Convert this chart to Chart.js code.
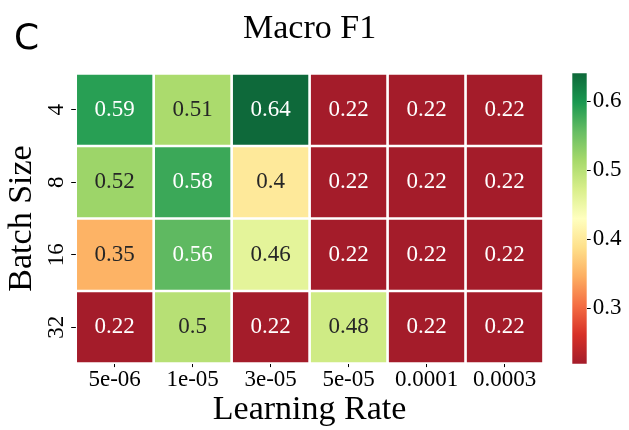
<!DOCTYPE html>
<html>
<head>
<meta charset="utf-8">
<script src="https://cdn.jsdelivr.net/npm/chart.js@4.4.0/dist/chart.umd.min.js"></script>
<style>
html,body{margin:0;padding:0;background:#fff;}
#wrap{position:relative;width:629px;height:430px;overflow:hidden;}
canvas{position:absolute;top:0;}
</style>
</head>
<body>
<div id="wrap">
<canvas id="main" width="629" height="430" style="left:0;width:629px;height:430px"></canvas>
<canvas id="cbar" width="69" height="430" style="left:560px;width:69px;height:430px"></canvas>
</div>
<script>
// ---- data ----
const learningRates = ['5e-06', '1e-05', '3e-05', '5e-05', '0.0001', '0.0003'];
const batchSizes = ['4', '8', '16', '32'];
const f1Batch4  = [0.59, 0.51, 0.64, 0.22, 0.22, 0.22];
const f1Batch8  = [0.52, 0.58, 0.40, 0.22, 0.22, 0.22];
const f1Batch16 = [0.35, 0.56, 0.46, 0.22, 0.22, 0.22];
const f1Batch32 = [0.22, 0.50, 0.22, 0.48, 0.22, 0.22];
const colorbarTicks = [0.3, 0.4, 0.5, 0.6];

const rows = [f1Batch4, f1Batch8, f1Batch16, f1Batch32];
const allVals = rows.flat();
const vmin = Math.min(...allVals);
const vmax = Math.max(...allVals);

// RdYlGn-like colormap control colours (ends tuned to the reference rendering)
const RdYlGn = [
  [164,28,42],[215,48,39],[244,109,67],[253,174,97],[254,224,139],
  [255,255,191],[217,239,139],[166,217,106],[102,189,99],[26,152,80],[14,105,58]
];
function cmapRGB(t) {
  t = Math.max(0, Math.min(1, t));
  const p = t * (RdYlGn.length - 1);
  const i = Math.min(Math.floor(p), RdYlGn.length - 2);
  const f = p - i;
  const a = RdYlGn[i], b = RdYlGn[i + 1];
  return [0,1,2].map(k => a[k] + (b[k] - a[k]) * f);
}
function rgbStr(c) { return 'rgb(' + c.map(Math.round).join(',') + ')'; }
function norm(v) { return (v - vmin) / (vmax - vmin); }
function luminance(c) {
  const lin = c.map(x => { x /= 255; return x <= 0.03928 ? x / 12.92 : Math.pow((x + 0.055) / 1.055, 2.4); });
  return 0.2126 * lin[0] + 0.7152 * lin[1] + 0.0722 * lin[2];
}

const SERIF = "'Liberation Serif', 'Times New Roman', serif";

const annotatePlugin = {
  id: 'annotate',
  afterDatasetsDraw(chart) {
    const ctx = chart.ctx;
    ctx.save();
    ctx.font = '23px ' + SERIF;
    ctx.textAlign = 'center';
    ctx.textBaseline = 'alphabetic';
    rows.forEach((row, i) => {
      const meta = chart.getDatasetMeta(i);
      meta.data.forEach((el, j) => {
        const p = el.getProps(['x', 'y', 'base'], true);
        const cy = (p.y + p.base) / 2;
        const col = cmapRGB(norm(row[j]));
        ctx.fillStyle = luminance(col) > 0.408 ? '#262626' : '#ffffff';
        ctx.fillText(String(row[j]), p.x, cy + 6);
      });
    });
    ctx.restore();
  },
  afterDraw(chart) {
    const ctx = chart.ctx;
    const ys = chart.scales.y;
    ctx.save();
    ctx.font = '23px ' + SERIF;
    ctx.fillStyle = '#000';
    ctx.textAlign = 'center';
    ctx.textBaseline = 'alphabetic';
    ys.ticks.forEach((t, i) => {
      const py = ys.getPixelForValue(t.value);
      ctx.save();
      ctx.translate(ys.right - 12.4, py);
      ctx.rotate(-Math.PI / 2);
      ctx.fillText(batchSizes[i], 0, 0);
      ctx.restore();
    });
    // panel letter
    ctx.font = "36px 'DejaVu Sans', sans-serif";
    ctx.textAlign = 'left';
    ctx.fillText('C', 14, 49);
    ctx.restore();
  }
};

new Chart(document.getElementById('main'), {
  type: 'bar',
  data: {
    labels: learningRates,
    datasets: rows.map((row, i) => ({
      label: batchSizes[i],
      data: row.map(() => [i, i + 1]),
      backgroundColor: row.map(v => rgbStr(cmapRGB(norm(v)))),
      borderColor: '#ffffff',
      borderWidth: 1.65,
      borderSkipped: false,
      grouped: false,
      barPercentage: 1,
      categoryPercentage: 1
    }))
  },
  options: {
    responsive: false,
    devicePixelRatio: 1,
    animation: false,
    layout: { padding: { top: 0, right: 85.5, bottom: 0, left: 0 } },
    plugins: {
      legend: { display: false },
      tooltip: { enabled: false },
      title: {
        display: true,
        text: 'Macro F1',
        color: '#000',
        fullSize: false,
        font: { family: SERIF, size: 34, weight: 'normal', lineHeight: 1.2 },
        padding: { top: 9.1, bottom: 23.5 }
      }
    },
    scales: {
      x: {
        type: 'category',
        offset: true,
        border: { display: false },
        grid: { offset: false, drawOnChartArea: false, tickLength: 3.5, color: '#000', lineWidth: 1 },
        ticks: { font: { family: SERIF, size: 23, lineHeight: 1 }, color: '#000', padding: 1, maxRotation: 0, minRotation: 0, autoSkip: false },
        title: { display: true, text: 'Learning Rate', color: '#000', font: { family: SERIF, size: 34, lineHeight: 1.2 }, padding: { top: 0, bottom: 0 } },
        afterFit(s) { s.height = 66.4; }
      },
      y: {
        type: 'linear',
        min: 0,
        max: 4,
        reverse: true,
        border: { display: false },
        afterBuildTicks(s) { s.ticks = batchSizes.map((b, i) => ({ value: i + 0.5 })); },
        grid: { drawOnChartArea: false, tickLength: 4.5, color: '#000', lineWidth: 1 },
        ticks: { display: false },
        title: { display: true, text: 'Batch Size', color: '#000', font: { family: SERIF, size: 34, lineHeight: 1.2 }, padding: { top: 1.5, bottom: 0 } },
        afterFit(s) { s.width = 75.7; }
      }
    }
  },
  plugins: [annotatePlugin]
});

new Chart(document.getElementById('cbar'), {
  type: 'bar',
  data: {
    labels: ['F1'],
    datasets: [{
      data: [[vmin, vmax]],
      borderWidth: 0,
      barPercentage: 1,
      categoryPercentage: 1,
      backgroundColor(context) {
        const chart = context.chart;
        if (!chart.chartArea) return 'rgba(0,0,0,0)';
        const ys = chart.scales.y;
        const g = chart.ctx.createLinearGradient(0, ys.getPixelForValue(vmin), 0, ys.getPixelForValue(vmax));
        RdYlGn.forEach((c, k) => g.addColorStop(k / (RdYlGn.length - 1), rgbStr(c)));
        return g;
      }
    }]
  },
  options: {
    responsive: false,
    devicePixelRatio: 1,
    animation: false,
    layout: { padding: { top: 73.35, right: 0, bottom: 66.3, left: 12.3 } },
    plugins: { legend: { display: false }, tooltip: { enabled: false } },
    scales: {
      x: { display: false },
      y: {
        type: 'linear',
        position: 'right',
        min: vmin,
        max: vmax,
        border: { display: false },
        afterBuildTicks(s) { s.ticks = colorbarTicks.map(v => ({ value: v })); },
        grid: { drawOnChartArea: false, tickLength: 4, color: '#000', lineWidth: 1 },
        ticks: { font: { family: SERIF, size: 23 }, color: '#000', padding: 2, callback: v => v.toFixed(1) },
        afterFit(s) { s.width = 42.3; }
      }
    }
  }
});
</script>
</body>
</html>
